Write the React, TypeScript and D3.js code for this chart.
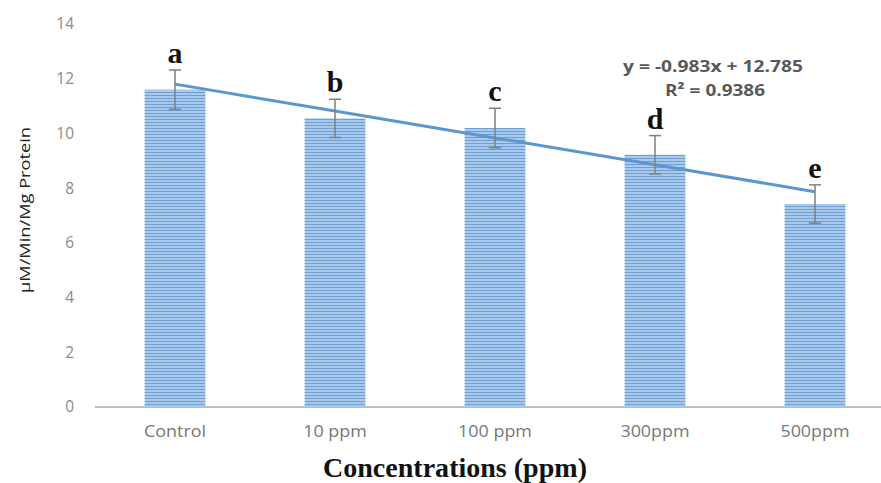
import React from "react";
import * as d3 from "d3";

const categories = ["Control", "10 ppm", "100 ppm", "300ppm", "500ppm"];
const values = [11.6, 10.55, 10.2, 9.22, 7.42];
const errors = [0.72, 0.7, 0.72, 0.7, 0.7];
const letters = ["a", "b", "c", "d", "e"];
const yTicks = [0, 2, 4, 6, 8, 10, 12, 14];
const slope = -0.983;
const intercept = 12.785;
const equationText = "y = -0.983x + 12.785";
const r2Text = "R² = 0.9386";

const W = 881;
const H = 483;

export default function App() {
  const x = d3.scaleBand<string>().domain(categories).range([95, 895]).paddingInner(0.62).paddingOuter(0.31);
  const y = d3.scaleLinear().domain([0, 14]).range([407, 24]);
  const bw = x.bandwidth();
  const cx = (i: number) => (x(categories[i]) as number) + bw / 2;
  const trend = d3
    .line<number>()
    .x((_, i) => cx(i))
    .y((_, i) => y(slope * (i + 1) + intercept));

  return (
    <svg
      width={W}
      height={H}
      style={{ position: "absolute", left: 0, top: 0, background: "#fff" }}
    >
      <defs>
        <pattern id="stripes" width="4" height="3" patternUnits="userSpaceOnUse">
          <rect width="4" height="3" fill="#a9c9ea" />
          <rect y="2" width="4" height="1" fill="#6d9fd4" />
        </pattern>
      </defs>
      {yTicks.map((t) => (
        <text
          key={t}
          x={74}
          y={y(t)}
          dy="0.35em"
          textAnchor="end"
          fontFamily="'Open Sans', sans-serif"
          fontSize={15.5}
          fill="#8a8a8a"
        >
          {t}
        </text>
      ))}
      <line x1={95} x2={881} y1={y(0)} y2={y(0)} stroke="#a6a6a6" strokeWidth={1.5} />
      {categories.map((c, i) => (
        <g key={c}>
          <rect
            x={x(c)}
            y={y(values[i])}
            width={bw}
            height={y(0) - y(values[i])}
            fill="url(#stripes)"
          />
          <text
            transform={`translate(${cx(i)},431) scale(1.12,1)`}
            dy="0.35em"
            textAnchor="middle"
            fontFamily="'Open Sans', sans-serif"
            fontSize={16}
            fill="#777"
          >
            {c}
          </text>
        </g>
      ))}
      <path d={trend(values) || ""} fill="none" stroke="#5b96cf" strokeWidth={3} />
      {categories.map((c, i) => {
        const top = y(values[i] + errors[i]);
        const bot = y(values[i] - errors[i]);
        return (
          <g key={"e" + c} stroke="#7f7f7f" strokeWidth={1.5}>
            <line x1={cx(i)} x2={cx(i)} y1={top} y2={bot} />
            <line x1={cx(i) - 6} x2={cx(i) + 6} y1={top} y2={top} />
            <line x1={cx(i) - 6} x2={cx(i) + 6} y1={bot} y2={bot} />
          </g>
        );
      })}
      {letters.map((l, i) => (
        <text
          key={l}
          x={cx(i)}
          y={y(values[i] + errors[i]) - 7}
          textAnchor="middle"
          fontFamily="'Liberation Serif', 'Times New Roman', serif"
          fontWeight="bold"
          fontSize={30}
          fill="#111"
        >
          {l}
        </text>
      ))}
      <text
        x={713}
        y={72}
        textAnchor="middle"
        fontFamily="'Open Sans', sans-serif"
        fontWeight="bold"
        fontSize={16.5}
        textLength={180}
        lengthAdjust="spacingAndGlyphs"
        fill="#595959"
      >
        {equationText}
      </text>
      <text
        x={715}
        y={96}
        textAnchor="middle"
        fontFamily="'Open Sans', sans-serif"
        fontWeight="bold"
        fontSize={16.5}
        textLength={100}
        lengthAdjust="spacingAndGlyphs"
        fill="#595959"
      >
        {r2Text}
      </text>
      <text
        transform={`translate(25,${210}) rotate(-90)`}
        textAnchor="middle"
        dy="0.35em"
        fontFamily="'Open Sans', sans-serif"
        fontSize={15}
        textLength={166}
        lengthAdjust="spacingAndGlyphs"
        fill="#222"
      >
        μM/Min/Mg Protein
      </text>
      <text
        x={455}
        y={477}
        textAnchor="middle"
        fontFamily="'Liberation Serif', 'Times New Roman', serif"
        fontWeight="bold"
        fontSize={27}
        textLength={264}
        lengthAdjust="spacingAndGlyphs"
        fill="#111"
      >
        Concentrations (ppm)
      </text>
    </svg>
  );
}
